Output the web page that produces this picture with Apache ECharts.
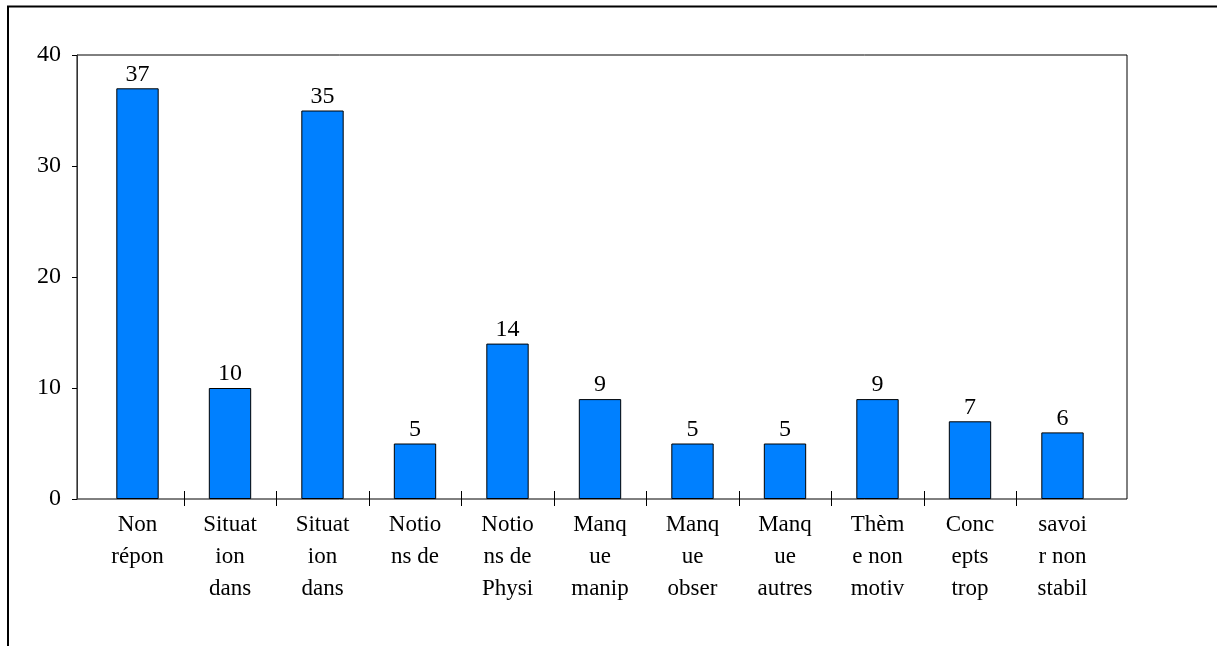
<!DOCTYPE html>
<html>
<head>
<meta charset="utf-8">
<script src="https://cdn.jsdelivr.net/npm/echarts@6/dist/echarts.min.js"></script>
<style>html,body{margin:0;padding:0;background:#fff;}#c{width:1217px;height:646px;}</style>
</head>
<body>
<div id="c"></div>
<script>
const categories = ["Non\nrépon","Situat\nion\ndans","Situat\nion\ndans","Notio\nns de","Notio\nns de\nPhysi","Manq\nue\nmanip","Manq\nue\nobser","Manq\nue\nautres","Thèm\ne non\nmotiv","Conc\nepts\ntrop","savoi\nr non\nstabil"];
const values = [37,10,35,5,14,9,5,5,9,7,6];
const yTicks = [0,10,20,30,40];

const FONT = 'Liberation Serif';
const FS = 23;
const FSN = 24;
const chart = echarts.init(document.getElementById('c'), null, {renderer:'canvas'});
const boundaryTicks = categories.slice(1).map((_, i) => i + 1);
chart.setOption({
  animation: false,
  backgroundColor: '#fff',
  textStyle: {fontFamily: FONT, color: '#000'},
  graphic: [{type:'rect', shape:{x:8, y:6.5, width:1400, height:800}, style:{fill:'none', stroke:'#000', lineWidth:2}, silent:true}],
  grid: [
    {left:77, right:90, top:55, bottom:147, show:true, borderColor:'#000', borderWidth:1, backgroundColor:'transparent'},
    {left:91.25, right:108.25, top:55, bottom:147}
  ],
  xAxis: [
    {type:'value', gridIndex:0, show:false, min:0, max:1},
    {type:'category', gridIndex:1, data:categories, boundaryGap:true,
     axisLine:{show:false}, axisTick:{show:false},
     axisLabel:{interval:0, margin:10, fontFamily:FONT, fontSize:FS, color:'#000', lineHeight:32, align:'center'}},
    {type:'value', gridIndex:1, min:0, max:categories.length, position:'bottom',
     axisLine:{show:false}, axisLabel:{show:false}, splitLine:{show:false},
     axisTick:{show:true, length:7, customValues:boundaryTicks, lineStyle:{color:'#000', width:1}}},
    {type:'value', gridIndex:1, min:0, max:categories.length, position:'bottom',
     axisLine:{show:false}, axisLabel:{show:false}, splitLine:{show:false},
     axisTick:{show:true, inside:true, length:8, customValues:boundaryTicks, lineStyle:{color:'#000', width:1}}}
  ],
  yAxis: [
    {type:'value', gridIndex:0, min:yTicks[0], max:yTicks[yTicks.length-1], interval:10,
     axisLine:{show:true, lineStyle:{color:'#333', width:1}},
     axisTick:{show:true, length:5, lineStyle:{color:'#000'}},
     splitLine:{show:false},
     axisLabel:{margin:16, fontFamily:FONT, fontSize:FSN, color:'#000', padding:[7,0,0,0]}},
    {type:'value', gridIndex:1, min:yTicks[0], max:yTicks[yTicks.length-1], show:false}
  ],
  series: [{
    type:'bar', xAxisIndex:1, yAxisIndex:1, data:values, barWidth:'45.8%',
    itemStyle:{color:'#0080ff', borderColor:'#000', borderWidth:1},
    label:{show:true, position:'top', distance:2, fontFamily:FONT, fontSize:FSN, color:'#000'}
  }]
});
</script>
</body>
</html>
